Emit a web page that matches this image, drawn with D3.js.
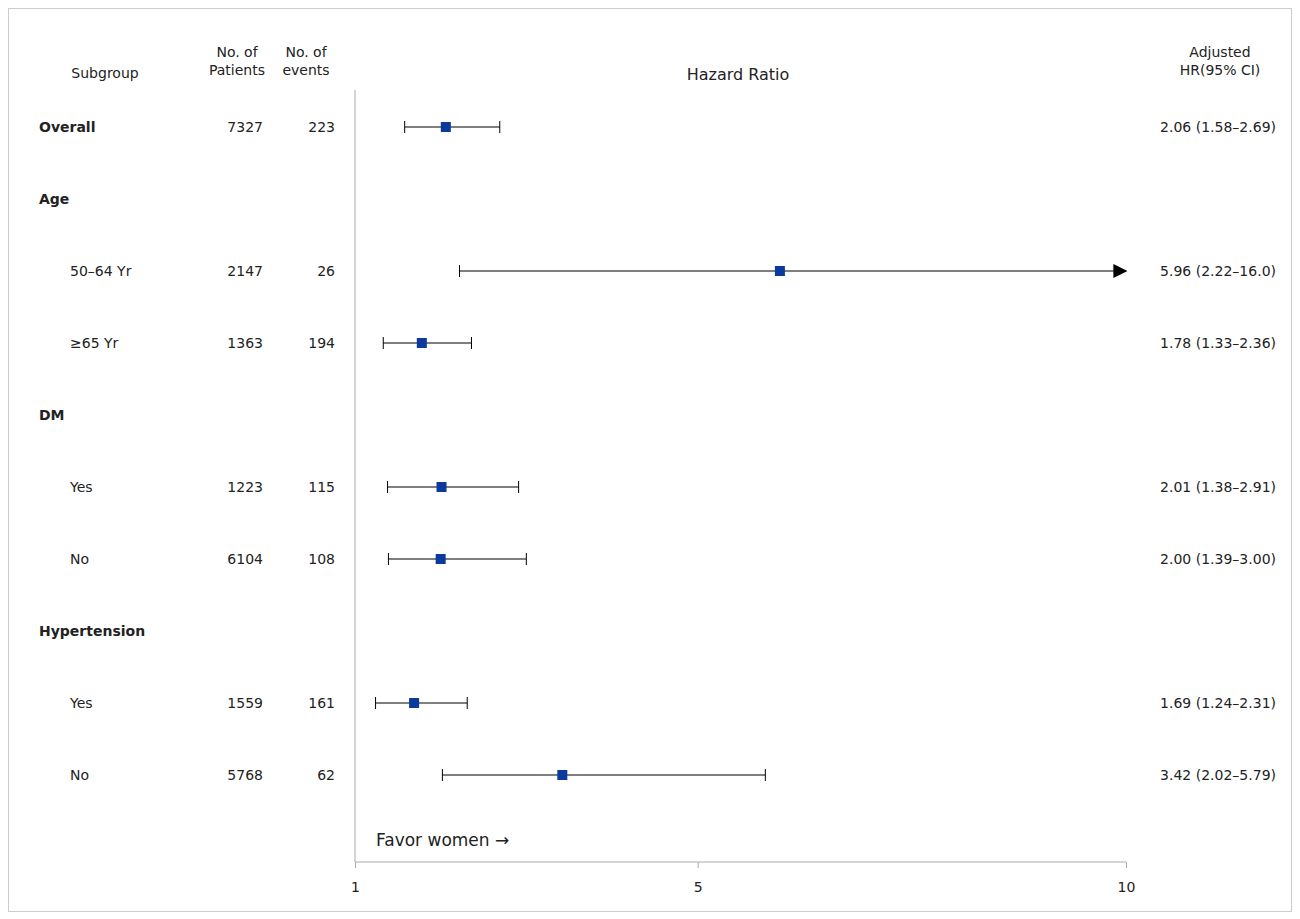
<!DOCTYPE html>
<html><head><meta charset="utf-8"><script src="https://cdn.jsdelivr.net/npm/d3@7"></script>
<style>body{margin:0;background:#fff}text{font-family:"DejaVu Sans",sans-serif;fill:#222}</style></head>
<body><svg id="c" width="1300" height="919"></svg>
<script>
const labels = ["Overall","Age","50–64 Yr","≥65 Yr","DM","Yes","No","Hypertension","Yes","No"];
const isHeader = [true,true,false,false,true,false,false,true,false,false];
const patients = ["7327","","2147","1363","","1223","6104","","1559","5768"];
const events = ["223","","26","194","","115","108","","161","62"];
const hr = [2.06,null,5.96,1.78,null,2.01,2.00,null,1.69,3.42];
const lo = [1.58,null,2.22,1.33,null,1.38,1.39,null,1.24,2.02];
const hi = [2.69,null,16.0,2.36,null,2.91,3.00,null,2.31,5.79];
const hrText = ["2.06 (1.58–2.69)","","5.96 (2.22–16.0)","1.78 (1.33–2.36)","","2.01 (1.38–2.91)","2.00 (1.39–3.00)","","1.69 (1.24–2.31)","3.42 (2.02–5.79)"];
const ticks = [1,5,10];

const svg = d3.select("#c");
svg.append("rect").attr("x",8.5).attr("y",8.5).attr("width",1283).attr("height",903).attr("fill","none").attr("stroke","#ccc");
svg.append("defs").append("marker").attr("id","ar").attr("viewBox","0 0 10 10").attr("refX",9).attr("refY",5)
  .attr("markerWidth",14).attr("markerHeight",14).attr("markerUnits","userSpaceOnUse").attr("orient","auto")
  .append("path").attr("d","M0,0L10,5L0,10z").attr("fill","#000");
const x = d3.scaleLinear().domain([1,10]).range([355,1126]);
const y = d3.scaleBand().domain(d3.range(labels.length)).range([91,811]);
const cy = i => y(i)+y.bandwidth()/2;
const fs = 14;
// headers
const hdr = (tx,ty,lines,anchor)=>{const t=svg.append("text").attr("x",tx).attr("y",ty).attr("text-anchor",anchor).attr("font-size",fs);
 lines.forEach((l,k)=>t.append("tspan").attr("x",tx).attr("dy",k?18:0).text(l));};
hdr(105,78,["Subgroup"],"middle");
hdr(237,57,["No. of","Patients"],"middle");
hdr(306,57,["No. of","events"],"middle");
hdr(1220,57,["Adjusted","HR(95% CI)"],"middle");
svg.append("text").attr("x",738).attr("y",80).attr("text-anchor","middle").attr("font-size",16).text("Hazard Ratio");
// axes
svg.append("line").attr("x1",355).attr("x2",355).attr("y1",90).attr("y2",862).attr("stroke","#aaa");
const ax = svg.append("g").attr("transform","translate(0,862)").call(d3.axisBottom(x).tickValues(ticks).tickSize(6).tickPadding(14));
ax.select(".domain").attr("stroke","#aaa").attr("d","M355,0H1126");
ax.selectAll(".tick line").attr("stroke","#aaa");
ax.selectAll("text").attr("font-size",14).attr("font-family","DejaVu Sans").attr("fill","#222");
svg.append("text").attr("x",376).attr("y",846).attr("font-size",17).text("Favor women →");
labels.forEach((l,i)=>{
  const yy=cy(i)+5;
  svg.append("text").attr("x",isHeader[i]?39:70).attr("y",yy).attr("font-size",fs).attr("font-weight",i===0||isHeader[i]?"bold":"normal").text(l);
  svg.append("text").attr("x",263).attr("y",yy).attr("text-anchor","end").attr("font-size",fs).text(patients[i]);
  svg.append("text").attr("x",335).attr("y",yy).attr("text-anchor","end").attr("font-size",fs).text(events[i]);
  svg.append("text").attr("x",1276).attr("y",yy).attr("text-anchor","end").attr("font-size",fs).text(hrText[i]);
  if(hr[i]!=null){
    const c=cy(i), clip=hi[i]>10, xe=clip?x(10):x(hi[i]);
    svg.append("line").attr("x1",x(lo[i])).attr("x2",xe).attr("y1",c).attr("y2",c).attr("stroke","#000").attr("stroke-width",1.2)
      .attr("marker-end",clip?"url(#ar)":null);
    svg.append("line").attr("x1",x(lo[i])).attr("x2",x(lo[i])).attr("y1",c-6).attr("y2",c+6).attr("stroke","#000");
    if(!clip) svg.append("line").attr("x1",xe).attr("x2",xe).attr("y1",c-6).attr("y2",c+6).attr("stroke","#000");
    svg.append("rect").attr("x",x(hr[i])-5).attr("y",c-5).attr("width",10).attr("height",10).attr("fill","#0a3a9c");
  }
});
</script></body></html>
